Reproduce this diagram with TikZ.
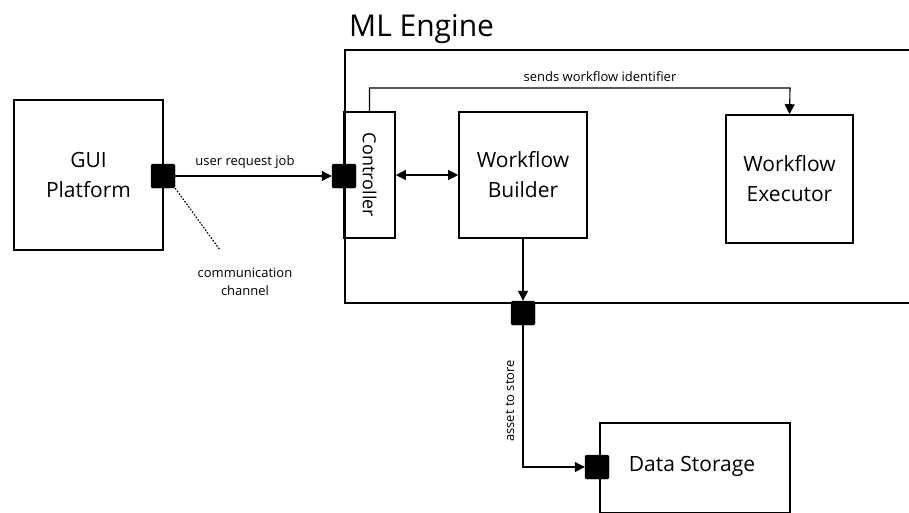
\documentclass[tikz,border=0pt]{standalone}
\usepackage{fontspec}
\setmainfont{Open Sans}
\usetikzlibrary{arrows.meta}
\begin{document}
\begin{tikzpicture}[x=1pt,y=-1pt,
  box/.style={draw, line width=1.6pt, inner sep=0pt, align=center,
              font=\fontsize{21}{30}\selectfont},
  port/.style={fill=black, draw=black, rounded corners=1.5pt,
               minimum size=24pt, inner sep=0pt},
  link/.style={line width=1.1pt, -{Triangle[length=10pt,width=10pt]}},
  lbl/.style={font=\fontsize{13}{18}\selectfont, align=center, inner sep=0pt}
]
\clip (0,0) rectangle (909,512);

% outer engine boundary (runs past the right edge)
\node[draw, line width=1.6pt, minimum width=620, minimum height=253,
      anchor=north west, inner sep=0pt] (engine) at (344,49) {};
\node[anchor=base west, inner sep=0pt, font=\fontsize{30}{34}\selectfont]
      (title) at (349,36) {ML Engine};

% components
\node[box, minimum width=149, minimum height=150] (gui) at (88.5,175) {GUI\\Platform};
\node[box, minimum width=51, minimum height=126] (ctrl) at (369.5,175) {};
\node[rotate=-90, inner sep=0pt, font=\fontsize{18}{20}\selectfont] (ctrltext) at (ctrl.center) {Controller};
\node[box, minimum width=128, minimum height=126] (builder) at (523,175) {Workflow\\Builder};
\node[box, minimum width=127, minimum height=128] (exec) at (789.5,179) {Workflow\\Executor};
\node[box, minimum width=190, minimum height=90, anchor=north west] (store) at (599,422) {};
\node[inner sep=0pt, font=\fontsize{21}{30}\selectfont] (storetext) at (692,466) {Data Storage};

% ports
\node[port] (p1) at (163,176) {};
\node[port] (p2) at (344,176) {};
\node[port] (p3) at (523,313) {};
\node[port] (p4) at (597,467) {};

% connectors
\draw[link] (p1.east) -- (p2.west);
\node[lbl] (l1) at (245,162) {user request job};

\coordinate (cc) at (220,250);
\draw[line width=1.1pt, dash pattern=on 1.6pt off 1.6pt] (p1.south east) -- (cc);
\node[lbl] (l2) at (245,282) {communication\\channel};

\draw[line width=1.1pt, {Triangle[length=10pt,width=10pt]}-{Triangle[length=10pt,width=10pt]}]
  (ctrl.east) -- (builder.west);

\coordinate (sw) at (790,88);
\draw[link] (ctrl.north) |- (sw) -- (exec.north);
\node[lbl] (l3) at (600,77) {sends workflow identifier};

\draw[link] (builder.south) -- (p3.north);
\draw[link] (p3.south) |- (p4.west);
\node[lbl, rotate=90] (l4) at (510,401) {asset to store};
\end{tikzpicture}
\end{document}
